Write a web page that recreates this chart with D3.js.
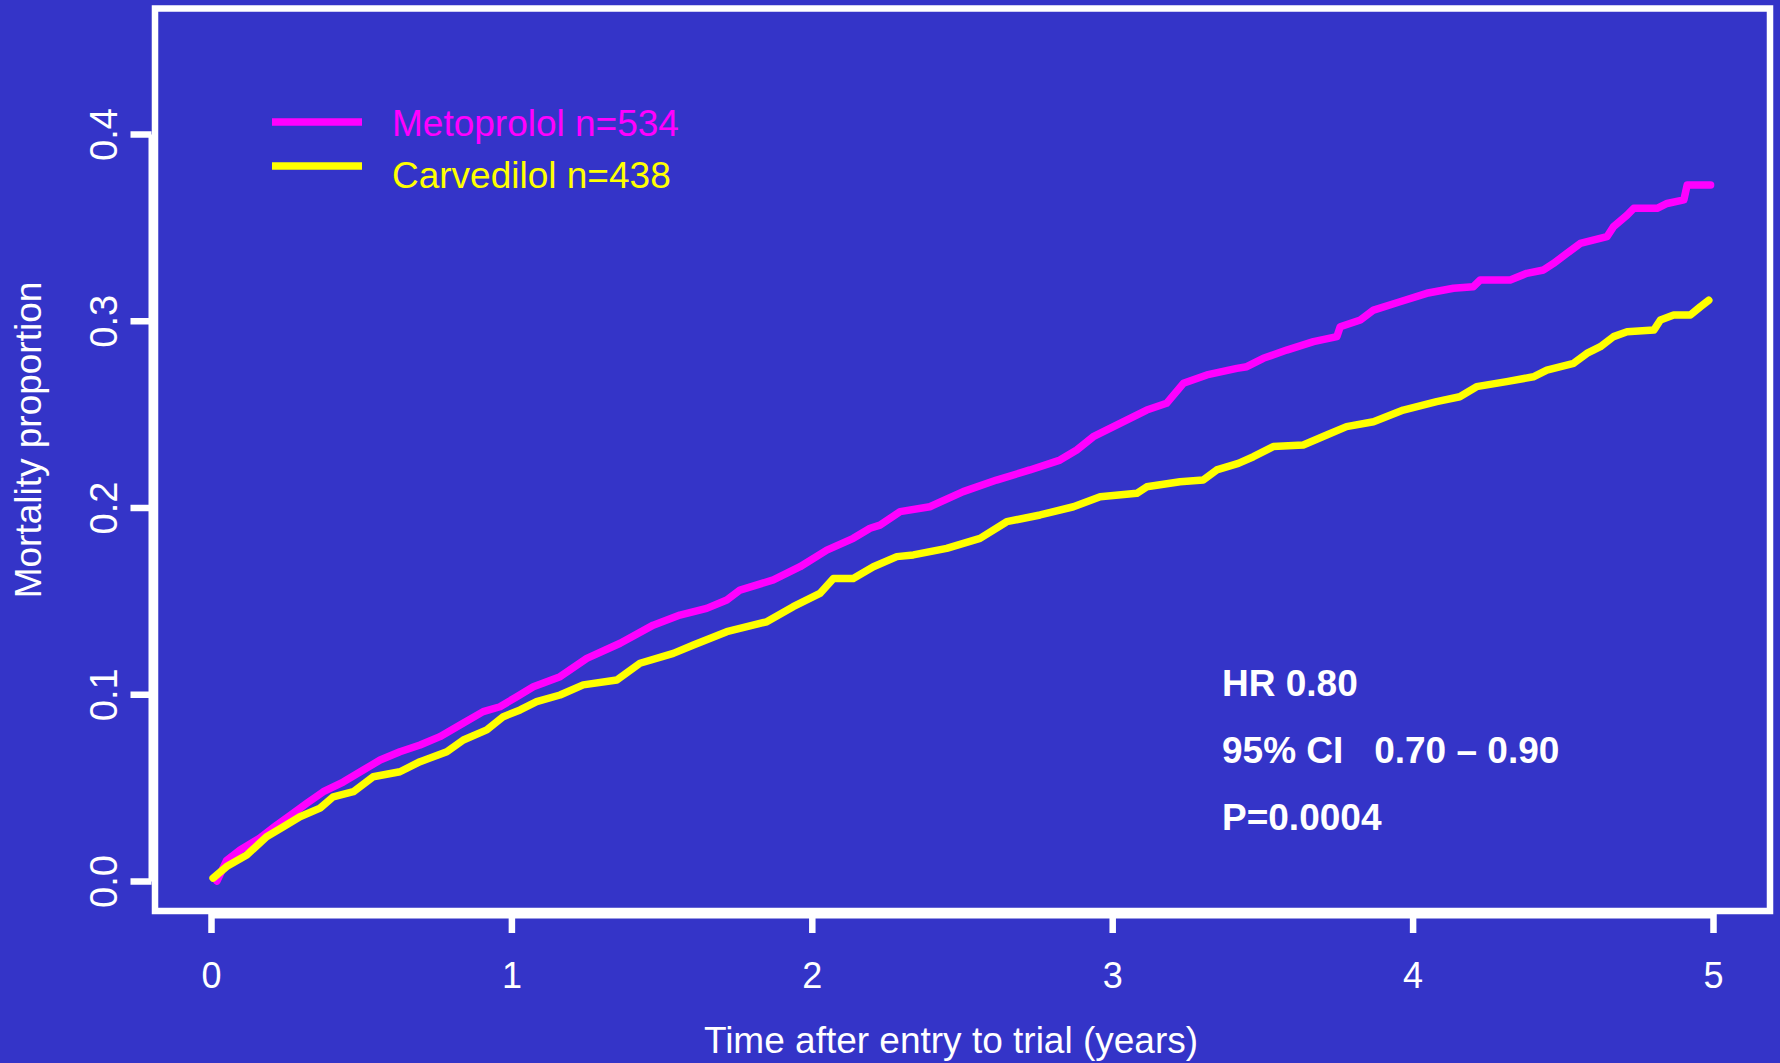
<!DOCTYPE html>
<html>
<head>
<meta charset="utf-8">
<script src="https://cdn.jsdelivr.net/npm/d3@7"></script>
<style>
  html, body { margin: 0; padding: 0; background: #3434c8; }
  svg { display: block; }
  text { font-family: "Liberation Sans", Arial, Helvetica, sans-serif; fill: #ffffff; }
</style>
</head>
<body>
<svg id="chart" width="1780" height="1063"></svg>
<script>
// ---- data ----
const timeTicks = [0, 1, 2, 3, 4, 5];
const propTicks = [0.0, 0.1, 0.2, 0.3, 0.4];
const propTickLabels = ["0.0", "0.1", "0.2", "0.3", "0.4"];

const seriesNames = ["Metoprolol n=534", "Carvedilol n=438"];
const seriesColors = ["#ff00ff", "#ffff00"];

const metoTime = [0.02, 0.052, 0.097, 0.163, 0.219, 0.263, 0.319, 0.374, 0.44, 0.507, 0.563, 0.629, 0.696, 0.762, 0.829, 0.906, 0.962, 1.018, 1.073, 1.162, 1.251, 1.362, 1.472, 1.561, 1.65, 1.717, 1.761, 1.872, 1.961, 2.05, 2.138, 2.194, 2.227, 2.294, 2.393, 2.504, 2.615, 2.726, 2.826, 2.882, 2.937, 3.026, 3.115, 3.181, 3.237, 3.315, 3.415, 3.448, 3.503, 3.581, 3.67, 3.748, 3.759, 3.826, 3.87, 3.958, 4.047, 4.136, 4.202, 4.225, 4.325, 4.38, 4.436, 4.469, 4.514, 4.558, 4.647, 4.669, 4.714, 4.736, 4.814, 4.847, 4.903, 4.914, 4.992];
const metoProp = [0.0, 0.011, 0.0166, 0.023, 0.030, 0.035, 0.0416, 0.0478, 0.053, 0.0594, 0.0648, 0.0692, 0.0728, 0.0773, 0.0835, 0.0907, 0.0933, 0.0987, 0.104, 0.1094, 0.1192, 0.1273, 0.137, 0.1424, 0.146, 0.1505, 0.1558, 0.1612, 0.1683, 0.1772, 0.1835, 0.1889, 0.1906, 0.1978, 0.2004, 0.2085, 0.2147, 0.2201, 0.2254, 0.2308, 0.2379, 0.2451, 0.2522, 0.2558, 0.2665, 0.271, 0.2745, 0.2754, 0.2799, 0.2843, 0.2888, 0.2915, 0.2968, 0.3004, 0.3057, 0.3102, 0.3147, 0.3174, 0.3182, 0.3218, 0.3218, 0.3254, 0.3272, 0.3307, 0.3361, 0.3414, 0.345, 0.3504, 0.3566, 0.3602, 0.3602, 0.3628, 0.3647, 0.3727, 0.3727];

const carvTime = [0.007, 0.052, 0.119, 0.185, 0.241, 0.296, 0.363, 0.407, 0.474, 0.54, 0.629, 0.696, 0.785, 0.84, 0.918, 0.973, 1.029, 1.084, 1.162, 1.239, 1.351, 1.428, 1.539, 1.606, 1.717, 1.85, 1.938, 2.027, 2.072, 2.138, 2.205, 2.283, 2.338, 2.449, 2.56, 2.649, 2.76, 2.871, 2.96, 3.082, 3.115, 3.226, 3.303, 3.348, 3.42, 3.47, 3.536, 3.636, 3.714, 3.78, 3.87, 3.969, 4.08, 4.157, 4.213, 4.313, 4.402, 4.447, 4.536, 4.58, 4.625, 4.669, 4.714, 4.803, 4.825, 4.869, 4.925, 4.958, 4.986];
const carvProp = [0.0016, 0.0077, 0.0139, 0.0237, 0.029, 0.0344, 0.039, 0.0451, 0.0478, 0.0558, 0.0585, 0.0639, 0.0692, 0.0755, 0.0809, 0.088, 0.0916, 0.096, 0.0996, 0.105, 0.1076, 0.1166, 0.1219, 0.1264, 0.1335, 0.1388, 0.1469, 0.154, 0.162, 0.162, 0.1683, 0.1737, 0.1746, 0.1781, 0.1835, 0.1924, 0.196, 0.2004, 0.2058, 0.2076, 0.2111, 0.2138, 0.2147, 0.2201, 0.2236, 0.2272, 0.2326, 0.2335, 0.2388, 0.2433, 0.2459, 0.2522, 0.2567, 0.2593, 0.2647, 0.2674, 0.27, 0.2736, 0.2772, 0.2825, 0.2861, 0.2915, 0.2941, 0.295, 0.3004, 0.3031, 0.3031, 0.3075, 0.311];

const statLines = ["HR 0.80", "95% CI   0.70 \u2013 0.90", "P=0.0004"];
const xTitle = "Time after entry to trial (years)";
const yTitle = "Mortality proportion";

// ---- layout ----
const svg = d3.select("#chart");
const W = 1780, H = 1063;
const bg = "#3434c8";

svg.append("rect").attr("x", 0).attr("y", 0).attr("width", W).attr("height", H).attr("fill", bg);

const x = d3.scaleLinear().domain([0, 5]).range([211, 1713]);
const y = d3.scaleLinear().domain([0, 0.4]).range([881, 134]);

// plot box
svg.append("rect")
  .attr("x", 155).attr("y", 8.5)
  .attr("width", 1770 - 155).attr("height", 911 - 8.5)
  .attr("fill", "none").attr("stroke", "#fff").attr("stroke-width", 6.5);

// x axis
const xAxis = d3.axisBottom(x).tickValues(timeTicks).tickFormat(d3.format("d")).tickSize(19).tickSizeOuter(0);
const gx = svg.append("g").attr("transform", "translate(0,914)").call(xAxis);
gx.select(".domain").attr("stroke", "#fff").attr("stroke-width", 8);
gx.selectAll(".tick line").attr("stroke", "#fff").attr("stroke-width", 6.5);
gx.selectAll(".tick text")
  .attr("y", 61).attr("dy", "0.35em")
  .attr("fill", "#fff").style("font-size", "36px")
  .style("font-family", "'Liberation Sans', Arial, sans-serif");

// y axis
const yAxis = d3.axisLeft(y).tickValues(propTicks).tickFormat((d, i) => propTickLabels[i]).tickSize(21).tickSizeOuter(0);
const gy = svg.append("g").attr("transform", "translate(151.5,0)").call(yAxis);
gy.select(".domain").attr("stroke", "#fff").attr("stroke-width", 7);
gy.selectAll(".tick line").attr("stroke", "#fff").attr("stroke-width", 6.5);
gy.selectAll(".tick text")
  .attr("x", 0).attr("y", -47.5).attr("dy", "0.35em")
  .attr("transform", "rotate(-90)")
  .attr("text-anchor", "middle")
  .attr("fill", "#fff").style("font-size", "38px")
  .style("font-family", "'Liberation Sans', Arial, sans-serif");

// axis titles
svg.append("text")
  .attr("x", 951).attr("y", 1040).attr("dy", "0.35em")
  .attr("text-anchor", "middle")
  .style("font-size", "37px")
  .text(xTitle);

svg.append("text")
  .attr("transform", "translate(28,440) rotate(-90)")
  .attr("dy", "0.35em")
  .attr("text-anchor", "middle")
  .style("font-size", "37px")
  .text(yTitle);

// curves
const line = d3.line().x(d => x(d[0])).y(d => y(d[1])).curve(d3.curveLinear);
const series = [
  { t: metoTime, p: metoProp, color: seriesColors[0] },
  { t: carvTime, p: carvProp, color: seriesColors[1] }
];
series.forEach(s => {
  const pts = s.t.map((t, i) => [t, s.p[i]]);
  svg.append("path")
    .attr("d", line(pts))
    .attr("fill", "none")
    .attr("stroke", s.color)
    .attr("stroke-width", 7.5)
    .attr("stroke-linejoin", "round")
    .attr("stroke-linecap", "round");
});

// legend
const legLineY = [122, 166];
const legTextY = [123.5, 175];
seriesNames.forEach((name, i) => {
  svg.append("line")
    .attr("x1", 272).attr("x2", 362)
    .attr("y1", legLineY[i]).attr("y2", legLineY[i])
    .attr("stroke", seriesColors[i]).attr("stroke-width", 7.5);
  svg.append("text")
    .attr("x", 392).attr("y", legTextY[i]).attr("dy", "0.35em")
    .style("font-size", "37px")
    .style("fill", seriesColors[i])
    .text(name);
});

// stats annotation
const statY = [683, 750, 817];
statLines.forEach((s, i) => {
  svg.append("text")
    .attr("x", 1222).attr("y", statY[i]).attr("dy", "0.35em")
    .attr("xml:space", "preserve")
    .style("white-space", "pre")
    .style("font-size", "37px")
    .style("font-weight", "bold")
    .text(s);
});
</script>
</body>
</html>
